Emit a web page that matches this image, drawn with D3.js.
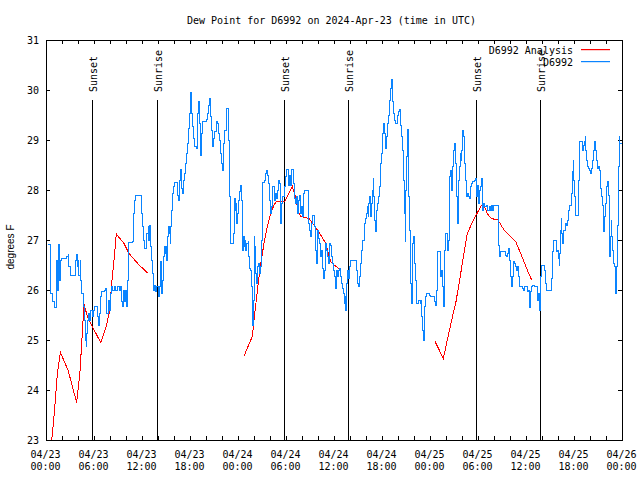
<!DOCTYPE html>
<html><head><meta charset="utf-8">
<script src="https://cdn.jsdelivr.net/npm/d3@7"></script>
<style>html,body{margin:0;padding:0;background:#fff;} svg{display:block;}</style>
</head><body>
<svg id="chart" width="640" height="480"></svg>
<script>
// ---------------- DATA ----------------
const chartTitle = "Dew Point for D6992 on 2024-Apr-23 (time in UTC)";
const yAxisLabel = "degrees F";
const seriesNames = ["D6992 Analysis", "D6992"];
const startTimeUTC = Date.UTC(2024, 3, 23, 0, 0);
const endTimeUTC = Date.UTC(2024, 3, 26, 0, 0);
const yDomain = [23, 31];
const yTickValues = [23, 24, 25, 26, 27, 28, 29, 30, 31];
const sunEventLabels = ["Sunset", "Sunrise", "Sunset", "Sunrise", "Sunset", "Sunrise"];
const sunEventHours = [5.79, 13.92, 29.79, 37.77, 53.79, 61.69];
const sunLineTopValue = 29.8;

// Analysis series: [hours since 04/23 00:00 UTC, degrees F]
const analysisSeg1 = [[0.5,22.65],[0.92,23.33],[1.13,23.73],[1.42,24.33],[1.8,24.75],[2.75,24.4],[3.3,24.07],[3.83,23.75],[4.25,24.37],[4.46,24.93],[4.75,25.72],[5.17,25.47],[5.79,25.27],[6.83,24.95],[7.46,25.23],[7.88,25.53],[8.08,25.87],[8.29,26.27],[8.5,26.6],[8.79,27.12],[9.75,26.93],[10.38,26.73],[11.63,26.5],[12.79,26.33]];
const analysisSeg2 = [[24.75,24.68],[25.79,25.07],[26.0,25.4],[26.34,25.87],[26.63,26.27],[26.91,26.6],[27.25,26.93],[27.67,27.27],[28.09,27.53],[28.5,27.7],[28.79,27.77],[29.84,27.77],[30.79,28.07],[31.13,27.9],[31.34,27.73],[31.63,27.53],[31.84,27.47],[32.88,27.43],[33.5,27.3],[34.34,27.1],[34.96,26.93],[35.59,26.57],[36.0,26.5],[36.63,26.43]];
const analysisSeg3 = [[48.63,24.97],[49.67,24.63],[50.16,25.0],[50.71,25.4],[51.21,25.73],[51.63,26.13],[52.04,26.53],[52.38,26.87],[52.66,27.13],[53.29,27.35],[53.84,27.52],[54.34,27.67],[54.66,27.73],[55.16,27.53],[55.66,27.43],[56.5,27.4],[57.25,27.2],[58.0,27.08],[58.71,26.97],[59.34,26.73],[60.16,26.4],[60.71,26.2]];

// Observed D6992 series: [hours since 04/23 00:00 UTC, degrees F]
const observedD6992 = [
[0.25,26.92],[0.59,26.92],[0.6,25.93],[0.79,25.77],[1.0,25.65],[1.29,25.65],[1.34,26.6],[1.41,26.0],[1.54,26.92],[1.63,26.2],[1.75,26.6],[1.91,26.63],[2.46,26.63],[2.59,26.68],[2.75,26.72],[2.84,26.47],[3.0,26.3],[3.59,26.3],[3.63,26.6],[3.79,26.72],[3.88,26.47],[4.0,26.6],[4.09,26.3],[4.25,26.6],[4.34,26.2],[4.46,25.93],[4.63,25.67],[4.75,25.6],[4.84,25.4],[4.91,25.0],[5.0,24.87],[5.09,25.13],[5.21,25.4],[5.34,25.53],[5.46,25.4],[5.59,25.6],[5.75,25.47],[5.91,25.6],[6.09,25.67],[6.29,25.67],[6.41,25.47],[6.54,25.3],[6.66,25.53],[6.79,25.87],[6.91,25.97],[7.25,26.0],[7.41,26.03],[7.5,25.67],[7.59,25.53],[7.75,25.8],[7.91,25.6],[8.0,25.93],[8.16,26.07],[8.29,26.0],[8.5,26.07],[8.66,25.99],[8.91,26.07],[9.13,25.99],[9.25,26.07],[9.41,25.77],[9.59,25.67],[9.66,26.0],[9.79,25.77],[9.91,26.0],[10.04,25.67],[10.16,26.2],[10.29,26.95],[10.59,26.95],[10.75,26.97],[10.88,27.53],[11.0,27.8],[11.21,27.9],[11.84,27.9],[11.91,27.53],[12.09,27.27],[12.16,27.0],[12.25,26.83],[12.46,26.83],[12.59,27.13],[12.75,27.27],[12.84,27.0],[12.91,27.3],[13.0,26.87],[13.16,26.6],[13.34,26.33],[13.41,26.0],[13.54,26.1],[13.71,25.97],[13.84,26.07],[14.0,25.87],[14.13,26.07],[14.25,26.57],[14.41,25.93],[14.59,26.2],[14.71,26.67],
[14.75,26.87],[14.88,26.73],[14.96,26.87],[15.09,26.6],[15.16,27.07],[15.29,27.27],[15.41,27.13],[15.5,26.93],[15.59,27.27],[15.66,27.6],[15.79,27.93],[15.91,28.07],[16.09,28.15],[16.29,28.15],[16.41,27.9],[16.54,27.8],[16.66,28.2],[16.75,28.41],[16.91,28.03],[17.04,27.93],[17.16,28.2],[17.34,28.33],[17.46,28.53],[17.59,28.73],[17.66,28.93],[17.75,29.23],[17.88,29.53],[18.0,29.75],[18.09,29.95],[18.16,29.53],[18.29,29.27],[18.41,29.03],[18.54,28.87],[18.79,28.83],[18.88,29.33],[18.96,29.53],[19.04,29.77],[19.13,29.33],[19.25,28.93],[19.34,28.7],[19.46,29.13],[19.59,29.37],[19.91,29.37],[20.04,29.41],[20.16,29.53],[20.29,29.7],[20.46,29.83],[20.59,29.47],[20.71,29.2],[20.84,28.87],[20.96,29.03],[21.09,29.17],[21.25,29.37],[21.38,29.33],[21.5,29.13],[21.66,29.0],[21.84,28.73],[21.96,28.53],[22.09,28.4],[22.16,28.93],[22.34,29.2],[22.5,29.63],[22.75,29.63],[22.84,29.0],[22.91,27.87],[23.0,26.93],[23.29,26.93],[23.38,27.13],[23.5,27.53],[23.59,27.83],[23.66,27.6],[23.75,27.73],[23.84,27.33],[23.91,27.53],[24.09,27.8],[24.21,27.97],[24.29,28.1],[24.38,27.8],[24.5,27.13],[24.59,26.8],[24.66,27.07],[24.75,26.87],[24.88,27.0],[24.96,26.8],[25.09,26.93],[25.25,26.97],[25.34,26.67],[25.41,26.43],[25.54,26.4],[25.66,26.07],[25.75,25.8],[25.84,25.3],[25.91,25.8],[26.0,27.07],[26.09,26.87],[26.16,26.33],[26.29,26.13],[26.41,26.47],[26.54,26.53],[26.66,26.33],[26.79,26.47],[26.91,27.0],[27.0,27.7],[27.09,28.15],[27.25,28.2],[27.38,28.33],[27.5,28.4],[27.63,28.3],[27.75,28.27],[27.84,28.13],[27.91,27.8],[28.04,27.53],[28.16,27.67],[28.29,28.07],[28.5,28.07],[28.59,27.8],[28.66,27.93],[28.79,27.83],[28.91,28.0],[29.04,28.2],[29.13,28.13],[29.25,27.67],[29.34,27.33],[29.46,27.73],[29.59,27.87],[29.75,28.07],
[29.88,28.27],[30.0,28.41],[30.25,28.41],[30.34,28.1],[30.46,28.3],[30.59,28.1],[30.66,28.41],[30.84,28.41],[30.91,28.13],[31.0,27.93],[31.09,27.83],[31.21,27.73],[31.34,27.87],[31.46,27.53],[31.59,27.8],[31.71,27.9],[31.84,27.53],[31.96,27.67],[32.09,27.47],[32.21,27.93],[32.34,28.0],[32.66,28.0],[32.75,27.73],[32.84,27.33],[32.96,27.2],[33.04,27.07],[33.16,27.33],[33.29,27.5],[33.5,27.5],[33.59,27.27],[33.71,26.8],[33.79,26.53],[33.88,26.93],[33.96,27.2],[34.09,27.03],[34.21,26.93],[34.34,26.67],[34.46,26.8],[34.59,26.43],[34.71,26.23],[34.79,26.4],[34.88,26.93],[35.0,26.8],[35.13,26.67],[35.25,26.53],[35.38,26.93],[35.5,26.9],[35.63,26.67],[35.75,26.53],[35.91,26.4],[36.09,26.27],[36.21,26.03],[36.34,26.4],[36.46,26.27],[36.59,26.4],[36.71,26.43],[36.84,26.27],[36.96,26.13],[37.09,26.03],[37.16,25.93],[37.25,25.73],[37.34,25.87],[37.41,25.6],[37.5,25.8],[37.59,26.13],[37.66,26.4],[37.75,26.23],[37.88,26.47],[38.0,26.59],[38.63,26.59],[38.75,26.4],[38.88,26.13],[39.09,26.07],[39.16,26.27],[39.29,26.53],[39.41,26.8],[39.54,27.0],[39.75,27.03],[39.84,27.33],[39.96,27.43],[40.09,27.53],[40.16,27.67],[40.25,27.47],[40.34,27.73],[40.46,27.87],[40.54,27.47],[40.66,27.73],[40.75,28.0],[40.88,28.23],[40.96,27.87],[41.04,27.4],[41.16,27.17],[41.25,27.6],[41.38,27.73],[41.5,27.87],[41.63,28.07],[41.75,28.27],[41.84,28.53],[41.96,28.73],[42.09,29.13],[42.21,29.33],[42.34,29.13],[42.46,28.83],[42.59,29.07],[42.71,29.33],[42.84,29.5],[42.96,29.8],[43.09,30.03],[43.16,30.21],[43.25,30.0],[43.34,29.77],[43.46,29.53],[43.59,29.4],[43.71,29.33],[43.88,29.33],[43.96,29.5],[44.09,29.57],[44.21,29.61],[44.29,29.3],[44.41,29.07],[44.54,28.8],[44.66,28.2],[44.79,27.53],[44.88,26.97],[44.96,28.0],[45.09,28.67],[45.16,29.21],[45.25,28.8],[45.34,27.87],[45.41,27.2],[45.5,26.67],[45.59,26.13],[45.66,25.73],[45.75,26.07],[45.84,26.93],[45.91,27.07],[46.0,26.8],[46.09,26.53],[46.16,26.2],[46.25,25.8],[46.34,25.73],[46.5,25.77],[46.59,25.8],[46.75,25.73],[46.84,25.8],[46.96,25.47],[47.09,25.2],[47.16,25.0],[47.25,25.47],[47.34,25.67],[47.46,25.87],[47.59,25.93],[47.88,25.9],[48.09,25.87],[48.41,25.87],[48.59,25.77],[48.71,25.7],[48.79,26.0],[48.91,26.77],[49.21,26.77],[49.34,26.27],[49.46,26.4],[49.59,26.07],[49.66,25.67],[49.75,26.33],[49.84,26.8],[49.91,27.13],[50.13,27.13],[50.21,26.8],[50.29,27.0],[50.38,27.47],[50.46,28.27],[50.54,28.4],[50.63,28.0],[50.75,28.47],[50.88,28.6],[50.96,28.8],[51.04,28.93],[51.13,28.53],[51.25,28.4],[51.34,27.87],[51.41,27.33],[51.5,27.73],[51.59,28.2],[51.66,28.47],[51.75,28.73],[51.84,28.6],[51.91,28.8],[52.0,29.0],[52.09,29.2],[52.16,29.07],[52.25,28.87],[52.34,28.53],[52.41,28.2],[52.5,28.0],[52.59,27.87],[52.66,27.93],[52.79,27.87],[52.88,27.83],[53.0,28.07],[53.13,28.13],[53.29,28.17],[53.5,28.2],[53.63,28.23],[53.75,28.13],[53.84,27.87],[53.91,28.1],[54.04,27.73],[54.16,28.0],[54.29,28.07],[54.41,28.23],[54.5,27.87],[54.59,27.6],[54.71,27.73],[54.84,27.67],[55.09,27.7],[55.21,27.6],[55.38,27.67],[55.5,27.6],[55.66,27.7],[55.84,27.6],[55.96,27.7],[56.41,27.7],[56.5,27.33],[56.59,26.9],[56.71,26.67],[56.79,26.77],[56.96,26.77],[57.25,26.77],[57.38,26.7],[57.5,26.67],[57.66,26.73],[57.84,26.83],[57.91,26.6],[58.0,26.47],[58.09,26.27],[58.16,26.07],[58.25,26.27],[58.38,26.57],[58.5,26.53],[58.63,26.47],[58.75,26.4],[58.91,26.47],[59.04,26.27],[59.13,26.07],[59.34,26.07],[59.5,26.03],[59.63,26.0],[59.75,26.07],[60.09,26.07],[60.16,25.97],[60.29,26.0],[60.38,25.65],[60.5,25.97],[60.63,26.07],[60.79,26.1],[61.0,26.07],[61.34,26.07],[61.46,25.8],[61.54,25.93],[61.66,25.6],[61.75,26.0],[61.84,26.27],[61.91,26.5],[62.13,26.5],[62.25,26.4],[62.38,26.13],[62.5,26.0],[63.09,26.0],[63.21,26.23],[63.29,26.77],[63.41,27.0],[63.63,27.0],[63.75,26.77],[63.91,26.8],[64.04,26.63],[64.13,26.5],[64.21,26.73],[64.29,27.2],[64.38,27.43],[64.46,27.13],[64.59,26.93],[64.71,27.2],[64.84,27.2],[64.96,27.33],[65.09,27.3],[65.21,27.4],[65.34,27.6],[65.41,27.7],[65.59,27.7],[65.71,27.93],[65.79,28.37],[65.88,28.6],[65.96,28.2],[66.04,27.87],[66.16,27.5],[66.41,27.5],[66.54,28.2],[66.63,28.6],[66.71,28.97],[66.91,28.97],[67.0,28.87],[67.09,28.8],[67.16,28.9],[67.29,28.97],[67.38,29.07],[67.46,28.8],[67.59,28.6],[67.66,28.47],[67.84,28.43],[67.96,28.4],[68.09,28.33],[68.21,28.43],[68.34,28.6],[68.46,28.8],[68.59,28.97],[68.66,28.8],[68.79,28.6],[68.91,28.43],[69.04,28.47],[69.16,28.4],[69.25,28.03],[69.38,27.87],[69.5,27.7],[69.63,27.33],[69.71,27.17],[69.84,27.47],[69.96,27.73],[70.09,28.07],[70.21,28.17],[70.29,27.9],[70.38,27.47],[70.46,26.67],[70.54,27.07],[70.63,27.4],[70.71,27.07],[70.79,26.8],[70.91,26.53],[71.04,26.47],[71.13,26.13],[71.21,25.93],[71.29,26.47],[71.38,26.93],[71.46,27.3],[71.54,28.47],[71.63,29.07],[71.71,28.93],[72.0,28.93]
];

// ---------------- DRAWING ----------------
const svg = d3.select("#chart");
const L = 46, R = 622, T = 40, B = 440;
const monoFont = "'DejaVu Sans Mono', 'Liberation Mono', monospace";
const redColor = "#ff0000", blueColor = "#0a84ff";
const toDate = h => new Date(startTimeUTC + h * 3600e3);

const x = d3.scaleUtc().domain([new Date(startTimeUTC), new Date(endTimeUTC)]).range([L, R]);
const y = d3.scaleLinear().domain(yDomain).range([B, T]);

svg.append("rect").attr("width", 640).attr("height", 480).attr("fill", "#fff");

svg.append("defs").append("clipPath").attr("id", "plotclip")
  .append("rect").attr("x", L).attr("y", T).attr("width", R - L + 1).attr("height", B - T + 1);

const tickTimes = d3.utcHour.every(2).range(new Date(startTimeUTC), new Date(endTimeUTC + 1));

function styleAxis(g) {
  g.select(".domain").remove();
  g.selectAll(".tick line").attr("stroke", "#000").attr("shape-rendering", "crispEdges");
  g.selectAll("text").attr("font-family", monoFont).attr("font-size", 10).attr("fill", "#000");
}

svg.append("g").attr("transform", `translate(0,${B})`)
  .call(d3.axisBottom(x).tickValues(tickTimes).tickSize(-4).tickFormat(""))
  .call(styleAxis);
svg.append("g").attr("transform", `translate(0,${T})`)
  .call(d3.axisTop(x).tickValues(tickTimes).tickSize(-4).tickFormat(""))
  .call(styleAxis);
svg.append("g").attr("transform", `translate(${L},0)`)
  .call(d3.axisLeft(y).tickValues(yTickValues).tickSize(-4).tickPadding(7).tickFormat(d3.format("d")))
  .call(styleAxis);
svg.append("g").attr("transform", `translate(${R},0)`)
  .call(d3.axisRight(y).tickValues(yTickValues).tickSize(-4).tickFormat(""))
  .call(styleAxis);

const fmtDay = d3.utcFormat("%m/%d"), fmtTime = d3.utcFormat("%H:%M");
const labelTimes = tickTimes.filter(t => t.getUTCHours() % 6 === 0);
const xl = svg.append("g").attr("font-family", monoFont).attr("font-size", 10).attr("text-anchor", "middle");
labelTimes.forEach(t => {
  const tx = xl.append("text").attr("x", x(t) - 0.5).attr("y", 458);
  tx.append("tspan").attr("x", x(t) - 0.5).attr("y", 458).text(fmtDay(t));
  tx.append("tspan").attr("x", x(t) - 0.5).attr("y", 470).text(fmtTime(t));
});

const sunG = svg.append("g");
sunEventHours.forEach((h, i) => {
  const sx = Math.round(x(toDate(h))) + 0.5;
  sunG.append("line").attr("x1", sx).attr("x2", sx).attr("y1", y(sunLineTopValue)).attr("y2", B)
    .attr("stroke", "#000").attr("stroke-width", 1).attr("shape-rendering", "crispEdges");
  sunG.append("text").attr("transform", `translate(${sx + 4.5},${y(sunLineTopValue) - 8}) rotate(-90)`)
    .attr("font-family", monoFont).attr("font-size", 10).attr("text-anchor", "start")
    .text(sunEventLabels[i]);
});

const plot = svg.append("g").attr("clip-path", "url(#plotclip)");
const lineLinear = d3.line().x(d => x(toDate(d[0]))).y(d => y(d[1]));
[analysisSeg1, analysisSeg2, analysisSeg3].forEach(seg => {
  plot.append("path").datum(seg).attr("d", lineLinear)
    .attr("fill", "none").attr("stroke", redColor).attr("stroke-width", 1).attr("shape-rendering", "crispEdges");
});
const lineStep = d3.line().curve(d3.curveStepAfter).x(d => x(toDate(d[0]))).y(d => y(d[1]));
plot.append("path").datum(observedD6992).attr("d", lineStep)
  .attr("fill", "none").attr("stroke", blueColor).attr("stroke-width", 1).attr("shape-rendering", "crispEdges");

svg.append("rect").attr("x", L + 0.5).attr("y", T + 0.5).attr("width", R - L).attr("height", B - T)
  .attr("fill", "none").attr("stroke", "#000").attr("stroke-width", 1).attr("shape-rendering", "crispEdges");

svg.append("text").attr("x", 331.5).attr("y", 24).attr("text-anchor", "middle")
  .attr("font-family", monoFont).attr("font-size", 10).text(chartTitle);

svg.append("text").attr("transform", "translate(14,247) rotate(-90)").attr("text-anchor", "middle")
  .attr("font-family", "'Liberation Sans', Arial, sans-serif").attr("font-size", 10).text(yAxisLabel);

// legend: sample swatches as filled 1px-high rects
const legendColors = [redColor, blueColor];
const legendRowY = [50, 62];
const legend = svg.append("g");
legend.selectAll("text.lg").data(seriesNames).join("text")
  .attr("class", "lg").attr("x", 573).attr("y", (d, i) => legendRowY[i] + 4)
  .attr("text-anchor", "end").attr("font-family", monoFont).attr("font-size", 10).attr("fill", "#000")
  .text(d => d);
legend.selectAll("rect.sw").data(seriesNames).join("rect")
  .attr("class", "sw").attr("x", 581).attr("y", (d, i) => legendRowY[i] - 1)
  .attr("width", 29).attr("height", 1.2).attr("fill", (d, i) => legendColors[i]);
</script>
</body></html>
